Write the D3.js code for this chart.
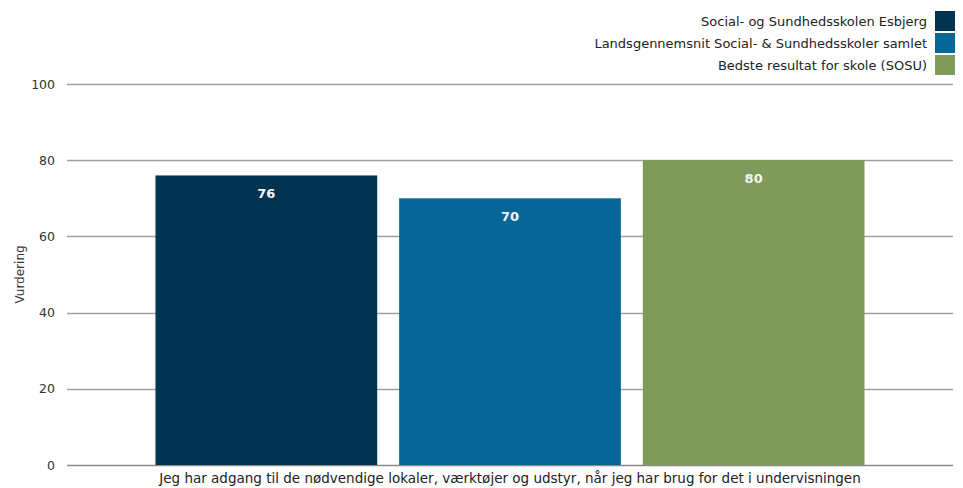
<!DOCTYPE html>
<html>
<head>
<meta charset="utf-8">
<script src="https://cdn.jsdelivr.net/npm/d3@7"></script>
<style>
body { margin: 0; background: #fff; }
text { font-family: "DejaVu Sans", Verdana, sans-serif; }
</style>
</head>
<body>
<script>
// data
var categories = ['Jeg har adgang til de nødvendige lokaler, værktøjer og udstyr, når jeg har brug for det i undervisningen']
var series = ['Social- og Sundhedsskolen Esbjerg', 'Landsgennemsnit Social- & Sundhedsskoler samlet', 'Bedste resultat for skole (SOSU)']
var values = [76, 70, 80]
var colors = ['#023351', '#066698', '#7f9a59']
var yTicks = [0, 20, 40, 60, 80, 100]

var width = 963
var height = 488
// plot area (not "top" - that's window.top)
var plotLeft = 67, plotRight = 953, plotTop = 84, plotBottom = 465

var svg = d3.select('body').append('svg').attr('width', width).attr('height', height)

var y = d3.scaleLinear().domain([0, 100]).range([plotBottom, plotTop])
var x0 = d3.scaleBand().domain(categories).range([plotLeft, plotRight]).paddingInner(0).paddingOuter(0.1248)
var x1 = d3.scaleBand().domain(series).range([0, x0.bandwidth()]).paddingInner(0.09).paddingOuter(0)

// grid
svg.append('g').selectAll('line').data(yTicks).enter()
    .append('line')
    .attr('x1', plotLeft).attr('x2', plotRight)
    .attr('y1', (d)=>{ return Math.round(y(d)) + 0.5 })
    .attr('y2', (d)=>{ return Math.round(y(d)) + 0.5 })
    .attr('stroke', (d)=>{ return d === 0 ? '#8a8a8a' : '#a0a0a0' })
    .attr('stroke-width', 1.3)

// y labels
svg.append('g').selectAll('text').data(yTicks).enter()
    .append('text')
    .attr('x', 55).attr('y', (d)=>{ return y(d) + 4.5 })
    .attr('text-anchor', 'end')
    .attr('font-size', 12.5).attr('fill', '#333')
    .text((d)=>{ return d })

svg.append('text')
    .attr('transform', 'translate(24,' + ((plotTop + plotBottom) / 2) + ') rotate(-90)')
    .attr('text-anchor', 'middle')
    .attr('font-size', 12).attr('fill', '#333')
    .text('Vurdering')

// bars
var g = svg.append('g').attr('transform', 'translate(' + x0(categories[0]) + ',0)')
g.selectAll('rect').data(values).enter()
    .append('rect')
    .attr('x', (d, i)=>{ return x1(series[i]) })
    .attr('y', (d)=>{ return y(d) })
    .attr('width', x1.bandwidth())
    .attr('height', (d)=>{ return plotBottom - y(d) })
    .attr('fill', (d, i)=>{ return colors[i] })

g.selectAll('text.val').data(values).enter()
    .append('text').attr('class', 'val')
    .attr('x', (d, i)=>{ return x1(series[i]) + x1.bandwidth() / 2 })
    .attr('y', (d)=>{ return y(d) + 23 })
    .attr('text-anchor', 'middle')
    .attr('font-size', 13).attr('font-weight', 'bold').attr('fill', '#f4f4f4')
    .text((d)=>{ return d })

// category label
svg.append('text')
    .attr('x', x0(categories[0]) + x0.bandwidth() / 2).attr('y', 483)
    .attr('text-anchor', 'middle')
    .attr('font-size', 13.5).attr('fill', '#222')
    .text(categories[0])

// legend
var legend = svg.append('g').selectAll('g').data(series).enter()
    .append('g').attr('transform', (d, i)=>{ return 'translate(0,' + (11 + i * 22) + ')' })
legend.append('rect').attr('x', 935).attr('y', 0).attr('width', 20).attr('height', 20)
    .attr('fill', (d, i)=>{ return colors[i] })
legend.append('text').attr('x', 927).attr('y', 15)
    .attr('text-anchor', 'end').attr('font-size', 13).attr('fill', '#222')
    .text((d)=>{ return d })
</script>
</body>
</html>
